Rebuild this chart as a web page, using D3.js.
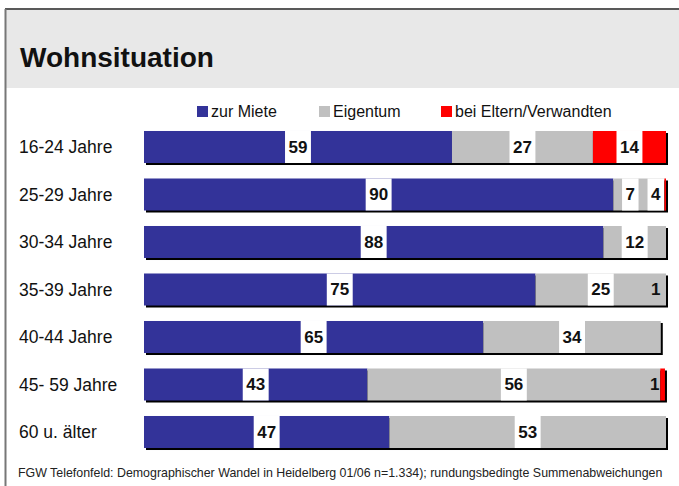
<!DOCTYPE html>
<html>
<head>
<meta charset="utf-8">
<script src="https://cdn.jsdelivr.net/npm/d3@7"></script>
<style>
  body { margin: 0; background: #fff; }
  text { font-family: Arial, "Liberation Sans", sans-serif; }
</style>
</head>
<body>
<div id="chart"></div>
<script>
// categories (age groups)
var groups = ["16-24 Jahre", "25-29 Jahre", "30-34 Jahre", "35-39 Jahre", "40-44 Jahre", "45- 59 Jahre", "60 u. älter"];
var seriesNames = ["zur Miete", "Eigentum", "bei Eltern/Verwandten"];

// bar lengths in percent, as drawn
var mieteBar = [59, 89.9, 88, 75, 65, 42.8, 47];
var eigentumBar = [27, 9.8, 12, 25, 34, 56.1, 53];
var elternBar = [14, 0.3, 0, 0, 0, 0.9, 0];

// printed numbers ("" = no label)
var mieteLabel = [59, 90, 88, 75, 65, 43, 47];
var eigentumLabel = [27, 7, 12, 25, 34, 56, 53];
var elternLabel = [14, 4, "", 1, "", 1, ""];

var colors = ["#333399", "#c0c0c0", "#ff0000"];

var W = 679, H = 486;
var svg = d3.select("#chart").append("svg")
    .attr("width", W)
    .attr("height", H);

// frame + header band
svg.append("rect")
    .attr("x", 6).attr("y", 10)
    .attr("width", W - 6).attr("height", 78)
    .attr("fill", "#e8e8e8");
svg.append("line")
    .attr("x1", 5).attr("x2", W).attr("y1", 9).attr("y2", 9)
    .attr("stroke", "#222").attr("stroke-width", 1.5);
svg.append("line")
    .attr("x1", 5.5).attr("x2", 5.5).attr("y1", 9).attr("y2", H)
    .attr("stroke", "#777").attr("stroke-width", 2);

svg.append("text")
    .attr("x", 20).attr("y", 67)
    .attr("font-size", 28).attr("font-weight", "bold")
    .attr("fill", "#111")
    .text("Wohnsituation");

// legend
var legendX = [197, 319, 441];
var legend = svg.selectAll(".legend")
    .data(seriesNames)
    .enter().append("g")
    .attr("transform", function (d, i) { return "translate(" + legendX[i] + ",106)"; });
legend.append("rect")
    .attr("width", 11).attr("height", 11)
    .attr("fill", function (d, i) { return colors[i]; });
legend.append("text")
    .attr("x", 14).attr("y", 11)
    .attr("font-size", 16).attr("fill", "#111")
    .text(function (d) { return d; });

// scales
var x = d3.scaleLinear().domain([0, 100]).range([144, 666]);
var y = d3.scaleBand().domain(groups)
    .range([123.25, 455.75])
    .paddingInner(0.326).paddingOuter(0.163);

var rows = groups.map(function (g, i) {
    return {
        group: g,
        parts: [mieteBar[i], eigentumBar[i], elternBar[i]],
        labels: [mieteLabel[i], eigentumLabel[i], elternLabel[i]]
    };
});

// category labels
svg.selectAll(".cat")
    .data(groups)
    .enter().append("text")
    .attr("x", 19)
    .attr("y", function (d) { return y(d) + y.bandwidth() / 2 + 6; })
    .attr("font-size", 17.5).attr("fill", "#111")
    .text(function (d) { return d; });

var row = svg.selectAll(".row")
    .data(rows)
    .enter().append("g")
    .attr("transform", function (d) { return "translate(0," + y(d.group) + ")"; });

// shadow
row.append("rect")
    .attr("x", x(0) + 2).attr("y", 2)
    .attr("width", function (d) { return x(d3.sum(d.parts)) - x(0); })
    .attr("height", y.bandwidth())
    .attr("fill", "#000");

row.each(function (d) {
    var g = d3.select(this);
    var acc = 0;
    var segs = d.parts.map(function (v, j) {
        var s = { x0: acc, x1: acc + v, label: d.labels[j], color: colors[j] };
        acc += v;
        return s;
    });
    g.selectAll(".seg")
        .data(segs)
        .enter().append("rect")
        .attr("x", function (s) { return x(s.x0); })
        .attr("width", function (s) { return x(s.x1) - x(s.x0); })
        .attr("height", y.bandwidth())
        .attr("fill", function (s) { return s.color; });

    // labels, placed right to left so the boxes do not overlap
    var barEnd = x(acc);
    var nextLeft = Infinity;
    for (var j = segs.length - 1; j >= 0; j--) {
        var s = segs[j];
        if (s.label === "") continue;
        var t = g.append("text")
            .attr("text-anchor", "middle")
            .attr("y", y.bandwidth() / 2 + 6)
            .attr("font-size", 17).attr("font-weight", "bold")
            .attr("fill", "#111")
            .text(s.label);
        var bw = t.node().getComputedTextLength() + 7;
        var cx = (x(s.x0) + x(s.x1)) / 2;
        cx = Math.min(cx, barEnd - 2 - bw / 2, nextLeft - 9 - bw / 2);
        t.attr("x", cx);
        if (+s.label > 1) {
            g.insert("rect", function () { return t.node(); })
                .attr("x", cx - bw / 2).attr("width", bw)
                .attr("height", y.bandwidth())
                .attr("fill", "#fff");
        }
        nextLeft = cx - bw / 2;
    }
});

// footer
svg.append("text")
    .attr("x", 18).attr("y", 477)
    .attr("font-size", 12.4).attr("fill", "#222")
    .text("FGW Telefonfeld: Demographischer Wandel in Heidelberg 01/06 n=1.334); rundungsbedingte Summenabweichungen");
</script>
</body>
</html>
